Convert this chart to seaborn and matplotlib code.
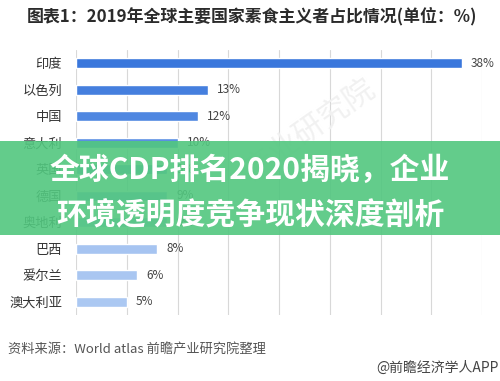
import matplotlib
matplotlib.use("Agg")
import matplotlib.pyplot as plt
import seaborn as sns
import pandas as pd
from matplotlib.patches import Rectangle

countries = ["印度", "以色列", "中国", "意大利", "英国", "德国", "奥地利", "巴西", "爱尔兰", "澳大利亚"]
shares = [38, 13, 12, 10, 9, 9, 9, 8, 6, 5]

title_text = "图表1：2019年全球主要国家素食主义者占比情况(单位：%)"
source_text = "资料来源：World atlas 前瞻产业研究院整理"
credit_text = "@前瞻经济学人APP"
banner_lines = ["全球CDP排名2020揭晓，企业", "环境透明度竞争现状深度剖析"]

sns.set_style("white")
plt.rcParams['font.family'] = ['Noto Sans CJK SC', 'DejaVu Sans']

df = pd.DataFrame({"country": countries, "share": shares})
colors = sns.blend_palette(["#3a77dc", "#5a8fe3", "#a4c2f0", "#abc8f2"], n_colors=len(countries))

fig = plt.figure(figsize=(5.0, 3.81), dpi=100)
ax = fig.add_axes([0.152, 0.173, 0.812, 0.696])

sns.barplot(data=df, x="share", y="country", hue="country", palette=colors,
            legend=False, width=0.38, ax=ax, orient="h", saturation=1)

ax.set_xlim(0, 40)
ax.set_xticks(range(0, 41, 5))
ax.xaxis.grid(True, color="#d8d8d8", linewidth=0.8)
ax.set_axisbelow(True)
ax.set_xticklabels([])
ax.tick_params(axis="x", length=0)
ax.tick_params(axis="y", length=0, labelsize=9.5, labelcolor="#333333", pad=10)
ax.set_xlabel("")
ax.set_ylabel("")
for s in ax.spines.values():
    s.set_visible(False)

for i, v in enumerate(shares):
    ax.text(v + 0.9, i, f"{v}%", va="center", ha="left", fontsize=8.5, color="#444444")

# faint watermark
fig.text(0.62, 0.66, "产业研究院", fontsize=22, color="#f1f1f1", rotation=35,
         ha="center", va="center", zorder=0)

fig.text(0.054, 0.958, title_text, fontsize=12.2, color="#2b2b2b",
         fontweight="bold", ha="left", va="center")
fig.text(0.016, 0.084, source_text, fontsize=9.5, color="#555555", ha="left", va="center")
fig.text(0.998, 0.034, credit_text, fontsize=10, color="#444444", ha="right", va="center")

# green banner overlay
fig.patches.append(Rectangle((0, 0.383), 1, 0.247, transform=fig.transFigure,
                             facecolor="#52c77f", alpha=0.9, edgecolor="none", zorder=5))
fig.text(0.5, 0.553, banner_lines[0], fontsize=21.5, color="white", fontweight="heavy",
         ha="center", va="center", zorder=6)
fig.text(0.5, 0.436, banner_lines[1], fontsize=21.5, color="white", fontweight="heavy",
         ha="center", va="center", zorder=6)

fig.savefig("out.png", dpi=100)
